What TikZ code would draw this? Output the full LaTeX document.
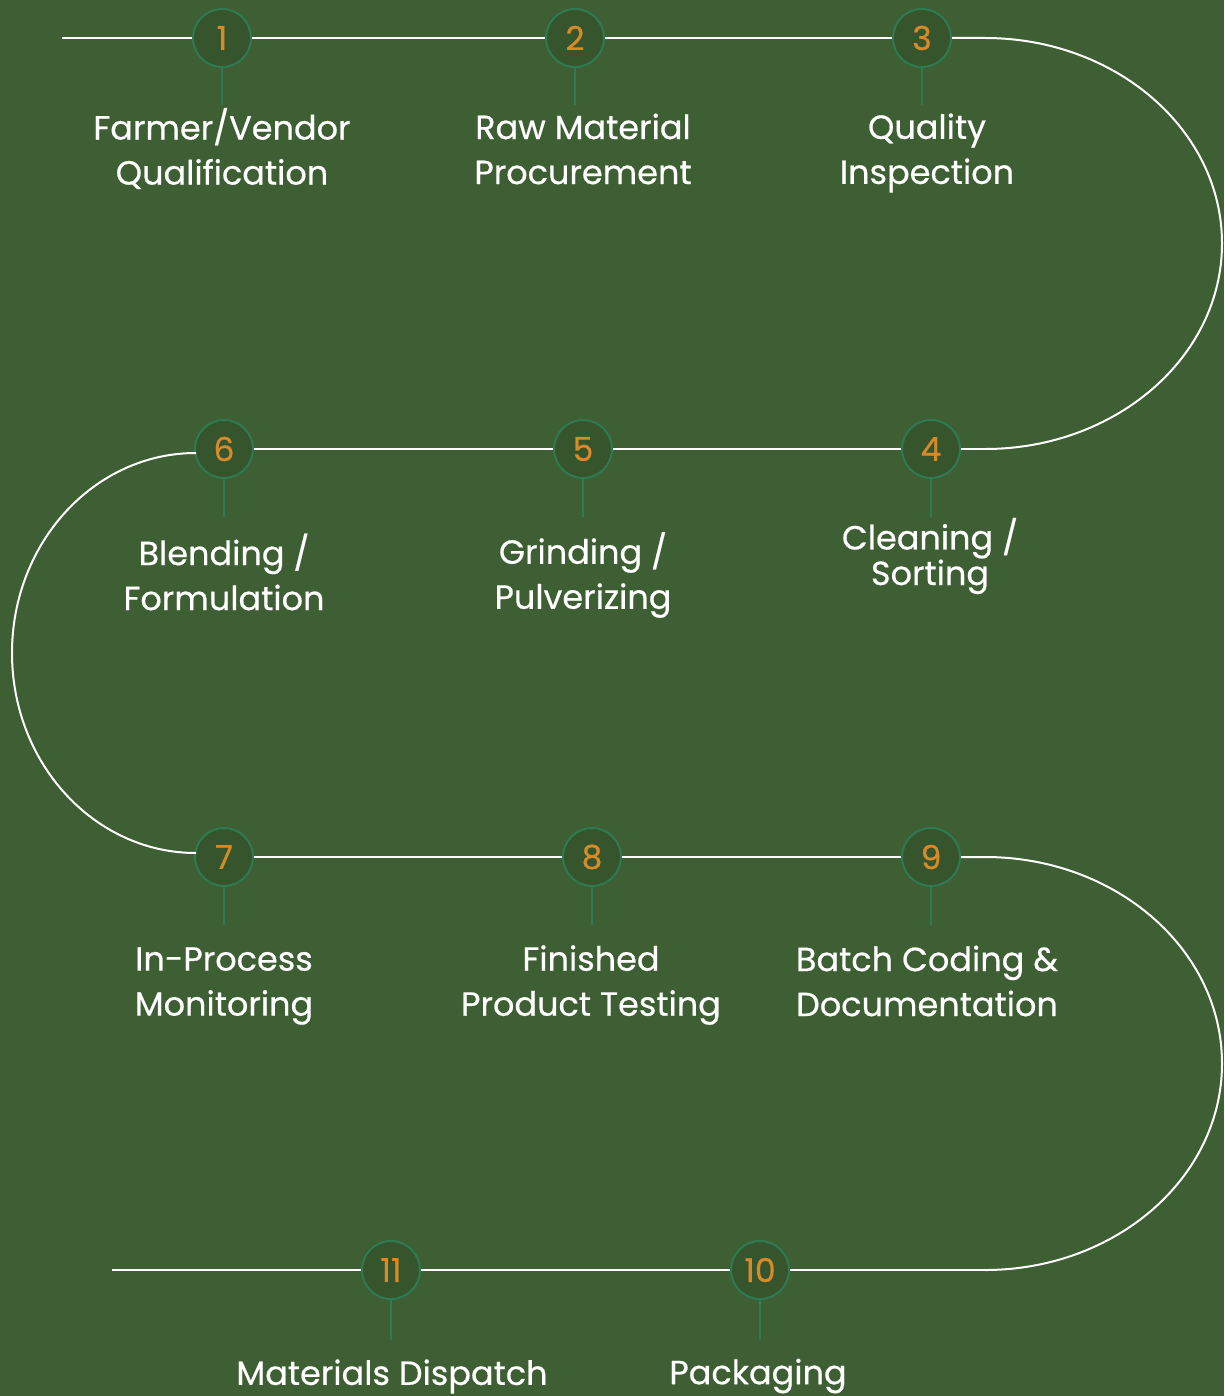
\documentclass[tikz,border=0pt]{standalone}
\usepackage{fontspec}
\setmainfont[FakeBold=0.5]{Poppins}
\definecolor{bg}{HTML}{3E5E33}
\definecolor{cfill}{HTML}{36552C}
\definecolor{cline}{HTML}{2F7A50}
\definecolor{numc}{HTML}{D68A2A}
\tikzset{
  stepcircle/.style={circle, draw=cline, line width=2pt, fill=cfill, minimum size=58pt, inner sep=0pt, text=numc, font=\fontsize{33}{33}\selectfont},
  stem/.style={draw=cline, line width=1.6pt},
  path line/.style={draw=white, line width=2pt},
  steplabel/.style={text=white, align=center, font=\fontsize{33.5}{45}\selectfont, inner sep=0pt}
}
\begin{document}
\begin{tikzpicture}[x=1pt,y=-1pt]
\fill[bg] (0,0) rectangle (1224,1396);
\useasboundingbox (0,0) rectangle (1224,1396);
% circles
\node[stepcircle] (c1) at (222,38) {1};
\node[stepcircle] (c2) at (575,38) {2};
\node[stepcircle] (c3) at (922,38) {3};
\node[stepcircle] (c4) at (931,449) {4};
\node[stepcircle] (c5) at (583,449) {5};
\node[stepcircle] (c6) at (224,449) {6};
\node[stepcircle] (c7) at (224,857) {7};
\node[stepcircle] (c8) at (592,857) {8};
\node[stepcircle] (c9) at (931,857) {9};
\node[stepcircle] (c10) at (760,1270) {10};
\node[stepcircle] (c11) at (391,1270) {11};
% path coordinates
\coordinate (s) at (62,38);
\coordinate (a1) at (985,38);
\coordinate (a2) at (985,449);
\coordinate (b1) at (196,453);
\coordinate (b2) at (196,853);
\coordinate (d1) at (985,857);
\coordinate (d2) at (985,1270);
\coordinate (e) at (112,1270);
% connectors
\draw[path line] (s) -- (c1);
\draw[path line] (c1) -- (c2);
\draw[path line] (c2) -- (c3);
\draw[path line] (c3) -- (a1) arc[start angle=-90, end angle=90, x radius=237, y radius=205.5];
\draw[path line] (a2) -- (c4);
\draw[path line] (c4) -- (c5);
\draw[path line] (c5) -- (c6);
\draw[path line] (b1) arc[start angle=-90, end angle=-270, x radius=184, y radius=200];
\draw[path line] (c7) -- (c8);
\draw[path line] (c8) -- (c9);
\draw[path line] (c9) -- (d1) arc[start angle=-90, end angle=90, x radius=237, y radius=206.5];
\draw[path line] (d2) -- (c10);
\draw[path line] (c10) -- (c11);
\draw[path line] (c11) -- (e);
% stems
\foreach \n/\x/\y in {1/222/105, 2/575/105, 3/922/105, 4/931/517, 5/583/517, 6/224/517, 7/224/925, 8/592/925, 9/931/925, 10/760/1340, 11/391/1340}{
  \draw[stem] (c\n.south) -- (\x,\y);
}
% labels
\node[steplabel] (l1) at (222,148.5) {Farmer/Vendor\\Qualification};
\node[steplabel] (l2) at (583,149) {Raw Material\\Procurement};
\node[steplabel] (l3) at (927,153) {Quality\\Inspection};
\node[steplabel, font=\fontsize{33.5}{34}\selectfont] (l4) at (930,556) {Cleaning /\\Sorting};
\node[steplabel] (l5) at (583,575) {Grinding /\\Pulverizing};
\node[steplabel] (l6) at (224,572) {Blending /\\Formulation};
\node[steplabel] (l7) at (224,986) {In-Process\\Monitoring};
\node[steplabel] (l8) at (591,985) {Finished\\Product Testing};
\node[steplabel] (l9) at (927,981) {Batch Coding \&\\Documentation};
\node[steplabel] (l10) at (758,1376) {Packaging};
\node[steplabel] (l11) at (392,1376.5) {Materials Dispatch};
\end{tikzpicture}
\end{document}
